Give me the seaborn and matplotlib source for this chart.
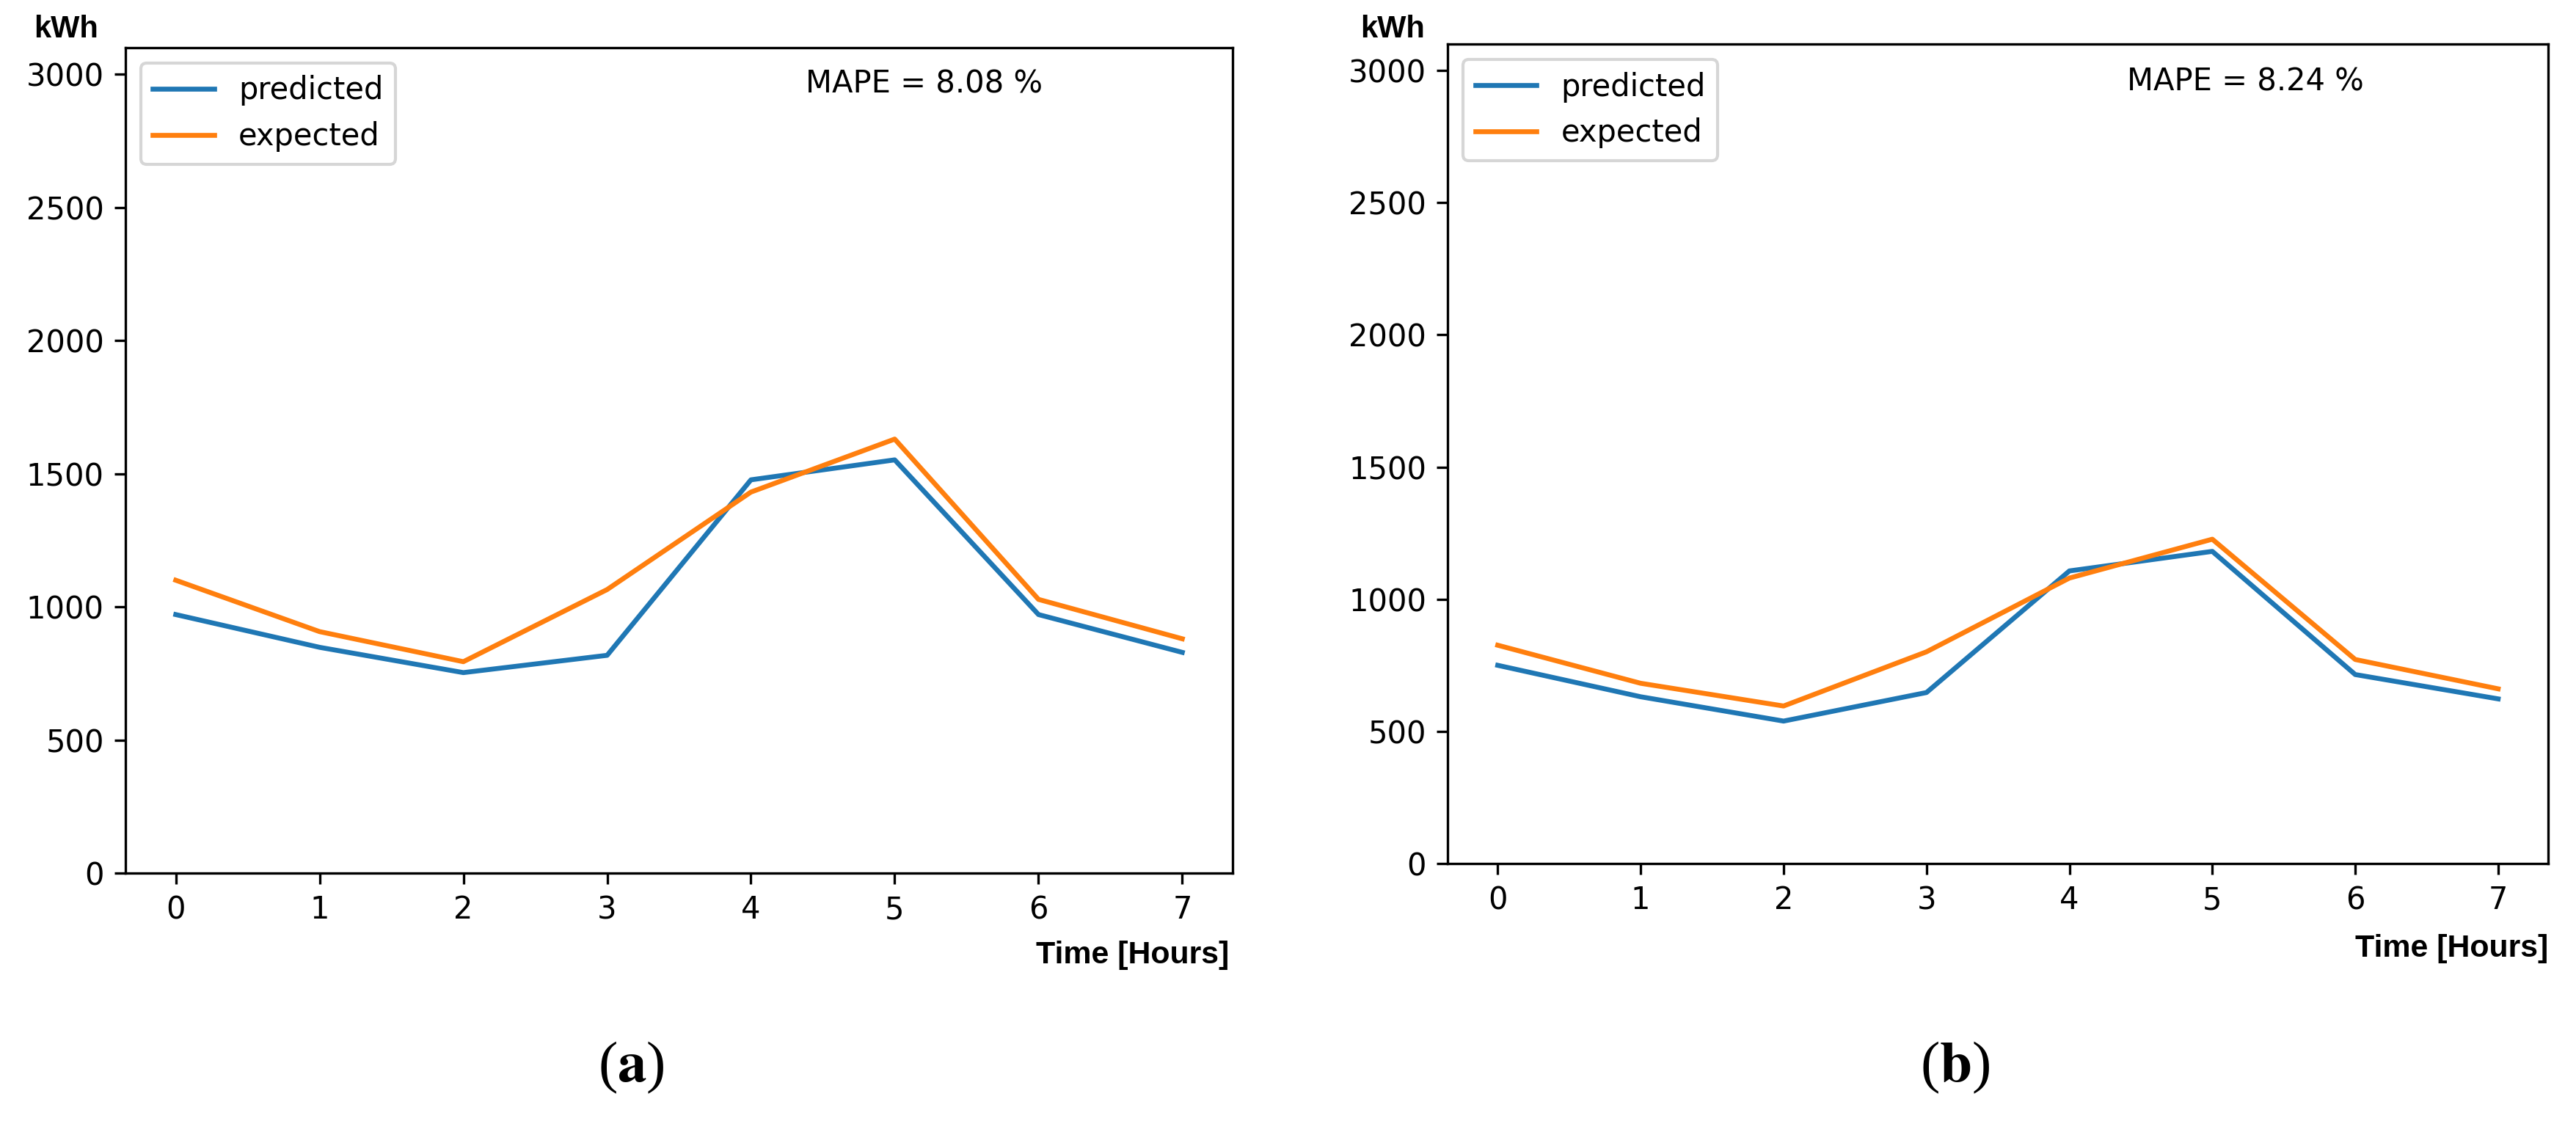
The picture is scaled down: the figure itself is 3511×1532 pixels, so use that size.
import matplotlib
matplotlib.use("Agg")
import matplotlib.pyplot as plt
import seaborn as sns
import numpy as np

# --------------------------------------------------------------------------------------------------------------------------------------------
# Data (kWh per hour)
hours = [0, 1, 2, 3, 4, 5, 6, 7]

predicted_a = [971, 848, 753, 818, 1477, 1552, 971, 829]
expected_a = [1100, 907, 794, 1065, 1431, 1630, 1028, 880]
mape_a = "8.08"

predicted_b = [750, 631, 539, 647, 1107, 1181, 715, 623]
expected_b = [826, 682, 596, 801, 1080, 1227, 772, 661]
mape_b = "8.24"

yticks = [0, 500, 1000, 1500, 2000, 2500, 3000]
panel_labels = ["a", "b"]

# --------------------------------------------------------------------------------------------------------------------------------------------
plt.rcParams['font.family'] = ['DejaVu Sans']
plt.rcParams['mathtext.fontset'] = 'stix'

fig = plt.figure(figsize=(3511 / 300, 1532 / 300), dpi=300)
ax_a = fig.add_axes([0.0487, 0.2232, 0.4298, 0.7344])
ax_b = fig.add_axes([0.5620, 0.2317, 0.4272, 0.7291])

panels = [
    (ax_a, predicted_a, expected_a, mape_a, 0.614, 0.956),
    (ax_b, predicted_b, expected_b, mape_b, 0.617, 0.954),
]

for ax, pred, exp, mape, mx, my in panels:
    sns.lineplot(x=hours, y=pred, ax=ax, color="#1f77b4", linewidth=1.6, label="predicted")
    sns.lineplot(x=hours, y=exp, ax=ax, color="#ff7f0e", linewidth=1.6, label="expected")
    ax.set_ylim(0, 3100)
    ax.set_yticks(yticks)
    ax.set_xticks(hours)
    ax.set_xlim(-0.35, 7.35)
    ax.legend(loc="upper left", fontsize=10)
    ax.text(mx, my, f"MAPE = {mape} %", transform=ax.transAxes, ha="left", va="center", fontsize=10)
    ax.tick_params(labelsize=10)

# Axis captions sit outside the axes like in the reference
fig.text(90 / 3511, 1 - 40 / 1532, "kWh", ha="center", va="center", fontsize=10,
         fontweight="bold", family="Liberation Sans")
fig.text(1898 / 3511, 1 - 40 / 1532, "kWh", ha="center", va="center", fontsize=10,
         fontweight="bold", family="Liberation Sans")
fig.text(1675 / 3511, 1 - 1302 / 1532, "Time [Hours]", ha="right", va="center", fontsize=10.3,
         fontweight="bold", family="Liberation Sans")
fig.text(3473 / 3511, 1 - 1293 / 1532, "Time [Hours]", ha="right", va="center", fontsize=10.3,
         fontweight="bold", family="Liberation Sans")

# Sub-figure labels
for lab, cx in zip(panel_labels, [860, 2665]):
    fig.text(cx / 3511, 1 - 1455 / 1532, r"($\mathbf{" + lab + r"}$)", ha="center", va="center",
             fontsize=19, family="Liberation Serif")

fig.savefig("out.png", dpi=300)
